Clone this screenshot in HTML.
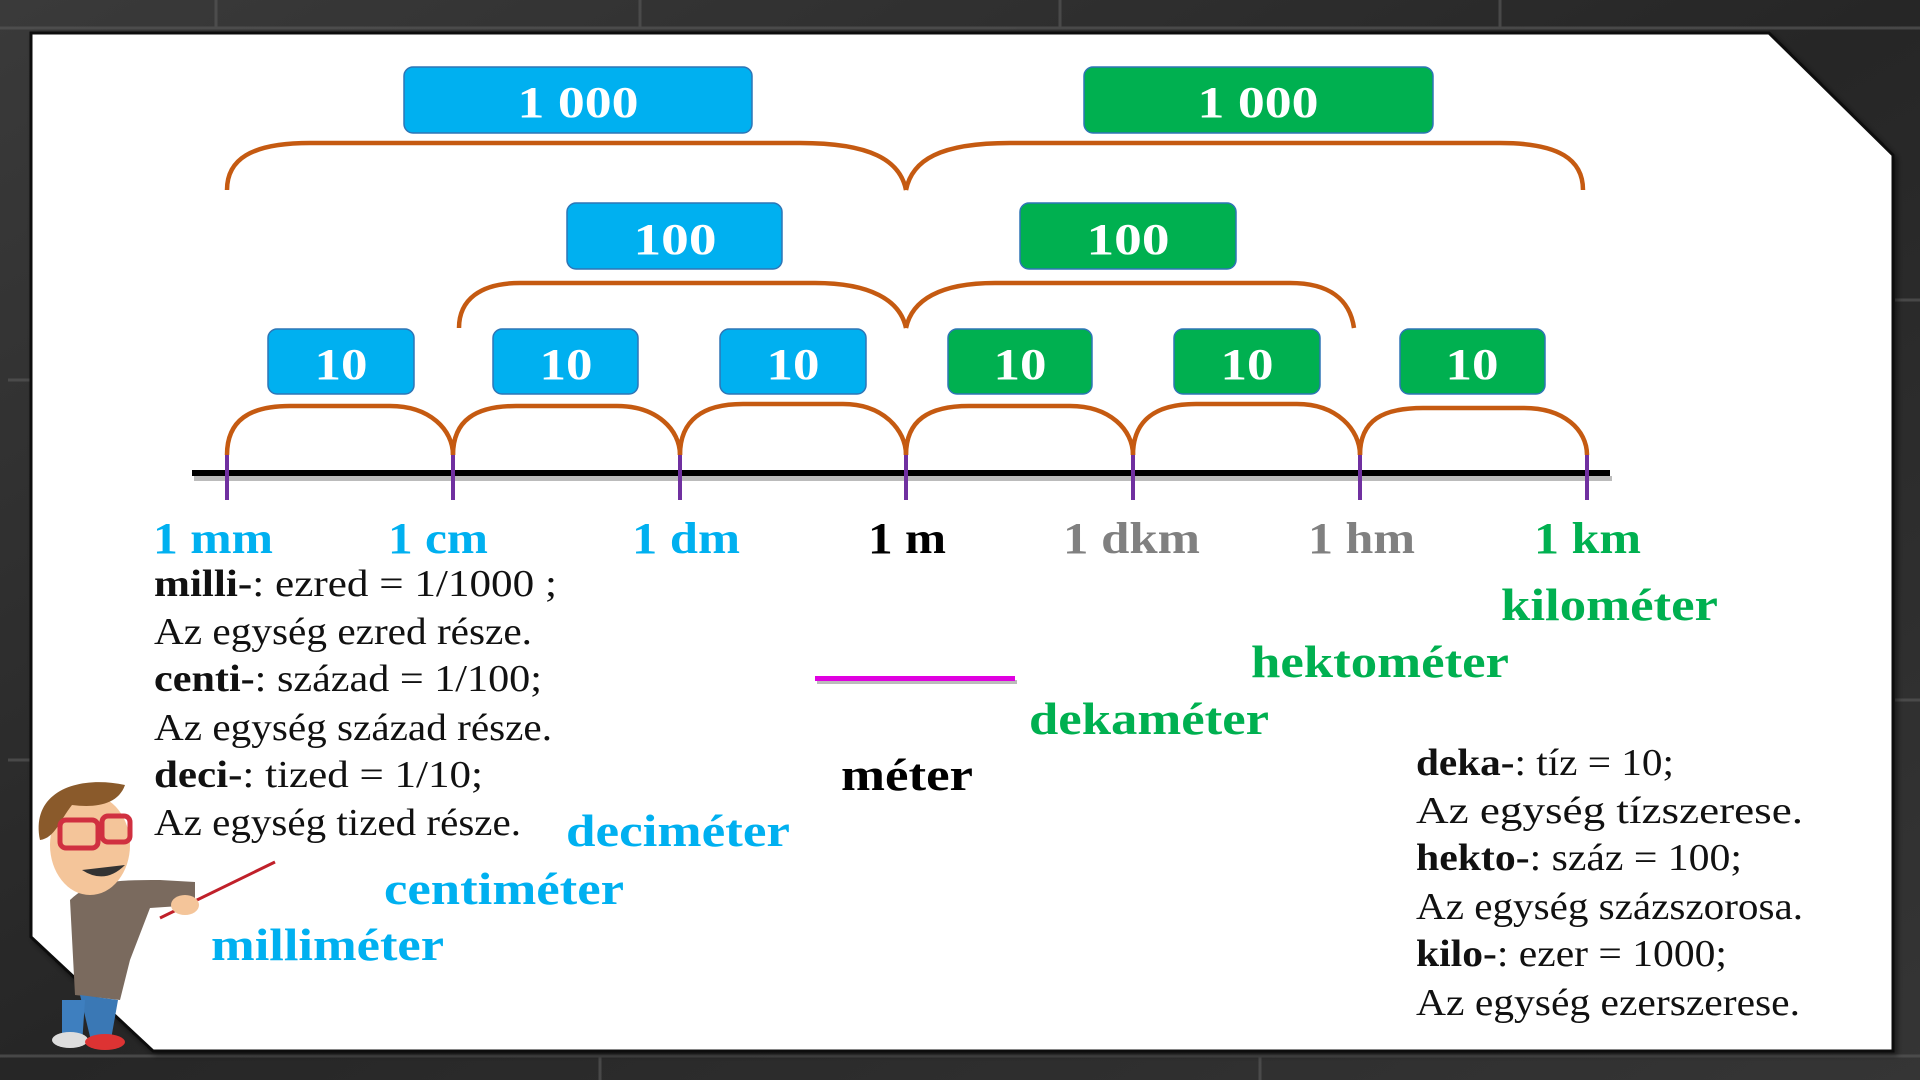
<!DOCTYPE html>
<html><head><meta charset="utf-8"><style>
html,body{margin:0;padding:0;width:1920px;height:1080px;overflow:hidden;background:#2b2b2b}
svg{display:block}
text{font-family:"Liberation Serif",serif}
</style></head><body>
<svg width="1920" height="1080" viewBox="0 0 1920 1080" xmlns="http://www.w3.org/2000/svg">
<defs>
<linearGradient id="bg" x1="0" y1="0" x2="1" y2="1"><stop offset="0" stop-color="#3a3a3a"/><stop offset="0.5" stop-color="#262626"/><stop offset="1" stop-color="#353535"/></linearGradient>
<filter id="sh" x="-5%" y="-5%" width="110%" height="110%"><feDropShadow dx="3" dy="3" stdDeviation="3" flood-opacity="0.5"/></filter>
</defs>
<rect width="1920" height="1080" fill="url(#bg)"/>
<g stroke="#555" stroke-width="3" fill="none" opacity="0.7">
<line x1="0" y1="28" x2="1920" y2="28"/><line x1="0" y1="1056" x2="1920" y2="1056"/>
<line x1="216" y1="0" x2="216" y2="28"/><line x1="640" y1="0" x2="640" y2="28"/><line x1="1060" y1="0" x2="1060" y2="28"/><line x1="1500" y1="0" x2="1500" y2="28"/>
<line x1="8" y1="380" x2="30" y2="380"/><line x1="8" y1="760" x2="30" y2="760"/><line x1="1895" y1="300" x2="1920" y2="300"/><line x1="1895" y1="700" x2="1920" y2="700"/>
<line x1="600" y1="1056" x2="600" y2="1080"/><line x1="1260" y1="1056" x2="1260" y2="1080"/>
</g>
<polygon points="31,33 1769,33 1893,155 1893,1051 153,1051 31,937" fill="#fff" stroke="#111" stroke-width="3" filter="url(#sh)"/>

<!-- axis -->
<rect x="194" y="476" width="1418" height="5" fill="#bbb"/>
<rect x="192" y="470" width="1418" height="6" fill="#000"/>
<g stroke="#7030a0" stroke-width="4">
<line x1="227" y1="455" x2="227" y2="500"/><line x1="453" y1="455" x2="453" y2="500"/><line x1="680" y1="455" x2="680" y2="500"/><line x1="906" y1="455" x2="906" y2="500"/><line x1="1133" y1="455" x2="1133" y2="500"/><line x1="1360" y1="455" x2="1360" y2="500"/><line x1="1587" y1="455" x2="1587" y2="500"/>
</g>
<g stroke="#c55a11" stroke-width="4.5" fill="none">
<path d="M227,455 C227,420 250,406 290,406 L390,406 C430,406 453,430 453,455"/>
<path d="M453,455 C453,420 476,406 516,406 L617,406 C657,406 680,430 680,455"/>
<path d="M680,455 C680,420 703,404 743,404 L843,404 C883,404 906,430 906,455"/>
<path d="M906,455 C906,420 929,406 969,406 L1070,406 C1110,406 1133,430 1133,455"/>
<path d="M1133,455 C1133,420 1156,404 1196,404 L1297,404 C1337,404 1360,430 1360,455"/>
<path d="M1360,455 C1360,420 1383,408 1423,408 L1524,408 C1564,408 1587,430 1587,455"/>
<path d="M459,328 C459,300 480,283 520,283 L815,283 C870,283 900,300 906,328"/>
<path d="M906,328 C912,300 940,283 995,283 L1290,283 C1330,283 1350,300 1354,328"/>
<path d="M227,190 C227,160 250,143 310,143 L800,143 C870,143 900,160 906,190"/>
<path d="M906,190 C912,160 940,143 1010,143 L1500,143 C1560,143 1583,160 1583,190"/>
</g>

<g font-weight="bold" font-size="44" fill="#fff" text-anchor="middle" stroke-width="1.5" lengthAdjust="spacingAndGlyphs">
<rect x="404" y="67" width="348" height="66" rx="9" fill="#00b0f0" stroke="#2e75b6"/><text x="578" y="117" textLength="121" lengthAdjust="spacingAndGlyphs">1 000</text>
<rect x="1084" y="67" width="349" height="66" rx="9" fill="#00b050" stroke="#2e75b6"/><text x="1258" y="117" textLength="121" lengthAdjust="spacingAndGlyphs">1 000</text>
<rect x="567" y="203" width="215" height="66" rx="9" fill="#00b0f0" stroke="#2e75b6"/><text x="675" y="254" textLength="83" lengthAdjust="spacingAndGlyphs">100</text>
<rect x="1020" y="203" width="216" height="66" rx="9" fill="#00b050" stroke="#2e75b6"/><text x="1128" y="254" textLength="83" lengthAdjust="spacingAndGlyphs">100</text>
<rect x="268" y="329" width="146" height="65" rx="9" fill="#00b0f0" stroke="#2e75b6"/><text x="341" y="379" textLength="53" lengthAdjust="spacingAndGlyphs">10</text>
<rect x="493" y="329" width="145" height="65" rx="9" fill="#00b0f0" stroke="#2e75b6"/><text x="566" y="379" textLength="53" lengthAdjust="spacingAndGlyphs">10</text>
<rect x="720" y="329" width="146" height="65" rx="9" fill="#00b0f0" stroke="#2e75b6"/><text x="793" y="379" textLength="53" lengthAdjust="spacingAndGlyphs">10</text>
<rect x="948" y="329" width="144" height="65" rx="9" fill="#00b050" stroke="#2e75b6"/><text x="1020" y="379" textLength="53" lengthAdjust="spacingAndGlyphs">10</text>
<rect x="1174" y="329" width="146" height="65" rx="9" fill="#00b050" stroke="#2e75b6"/><text x="1247" y="379" textLength="53" lengthAdjust="spacingAndGlyphs">10</text>
<rect x="1400" y="329" width="145" height="65" rx="9" fill="#00b050" stroke="#2e75b6"/><text x="1472" y="379" textLength="53" lengthAdjust="spacingAndGlyphs">10</text>
</g>

<g font-weight="bold" font-size="44">
<text x="153" y="553" fill="#00b0f0" textLength="120" lengthAdjust="spacingAndGlyphs">1 mm</text>
<text x="388" y="553" fill="#00b0f0" textLength="100" lengthAdjust="spacingAndGlyphs">1 cm</text>
<text x="632" y="553" fill="#00b0f0" textLength="108" lengthAdjust="spacingAndGlyphs">1 dm</text>
<text x="868" y="553" fill="#000" textLength="78" lengthAdjust="spacingAndGlyphs">1 m</text>
<text x="1063" y="553" fill="#808080" textLength="137" lengthAdjust="spacingAndGlyphs">1 dkm</text>
<text x="1308" y="553" fill="#808080" textLength="107" lengthAdjust="spacingAndGlyphs">1 hm</text>
<text x="1534" y="553" fill="#00b050" textLength="107" lengthAdjust="spacingAndGlyphs">1 km</text>
<g font-size="46">
<text x="1501" y="620" fill="#00b050" textLength="217" lengthAdjust="spacingAndGlyphs">kilométer</text>
<text x="1251" y="677" fill="#00b050" textLength="258" lengthAdjust="spacingAndGlyphs">hektométer</text>
<text x="1029" y="734" fill="#00b050" textLength="240" lengthAdjust="spacingAndGlyphs">dekaméter</text>
<text x="841" y="790" fill="#000" textLength="132" lengthAdjust="spacingAndGlyphs">méter</text>
<text x="566" y="846" fill="#00b0f0" textLength="224" lengthAdjust="spacingAndGlyphs">deciméter</text>
<text x="384" y="904" fill="#00b0f0" textLength="240" lengthAdjust="spacingAndGlyphs">centiméter</text>
<text x="211" y="960" fill="#00b0f0" textLength="233" lengthAdjust="spacingAndGlyphs">milliméter</text>
</g>
</g>
<rect x="817" y="680" width="200" height="4" fill="#bbb"/>
<rect x="815" y="676" width="200" height="5" fill="#e000e0"/>

<g font-size="38" fill="#111">
<text x="154" y="596" textLength="403" lengthAdjust="spacingAndGlyphs"><tspan font-weight="bold">milli-</tspan>: ezred = 1/1000 ;</text>
<text x="154" y="644" textLength="378" lengthAdjust="spacingAndGlyphs">Az egység ezred része.</text>
<text x="154" y="691" textLength="388" lengthAdjust="spacingAndGlyphs"><tspan font-weight="bold">centi-</tspan>: század = 1/100;</text>
<text x="154" y="740" textLength="398" lengthAdjust="spacingAndGlyphs">Az egység század része.</text>
<text x="154" y="787" textLength="329" lengthAdjust="spacingAndGlyphs"><tspan font-weight="bold">deci-</tspan>: tized = 1/10;</text>
<text x="154" y="835" textLength="367" lengthAdjust="spacingAndGlyphs">Az egység tized része.</text>
<text x="1416" y="775" textLength="258" lengthAdjust="spacingAndGlyphs"><tspan font-weight="bold">deka-</tspan>: tíz = 10;</text>
<text x="1416" y="823" textLength="387" lengthAdjust="spacingAndGlyphs">Az egység tízszerese.</text>
<text x="1416" y="870" textLength="326" lengthAdjust="spacingAndGlyphs"><tspan font-weight="bold">hekto-</tspan>: száz = 100;</text>
<text x="1416" y="919" textLength="387" lengthAdjust="spacingAndGlyphs">Az egység százszorosa.</text>
<text x="1416" y="966" textLength="311" lengthAdjust="spacingAndGlyphs"><tspan font-weight="bold">kilo-</tspan>: ezer = 1000;</text>
<text x="1416" y="1015" textLength="384" lengthAdjust="spacingAndGlyphs">Az egység ezerszerese.</text>
</g>

<!-- cartoon teacher -->
<g>
<line x1="160" y1="918" x2="275" y2="862" stroke="#c0202a" stroke-width="3"/>
<path d="M70,900 C90,880 120,880 160,880 L195,882 L195,905 L150,908 L130,960 L120,1000 L75,995 Z" fill="#7a6a5e"/>
<path d="M80,995 L118,1000 L110,1045 L92,1045 Z" fill="#3a78b5"/>
<path d="M62,1000 L85,1000 L82,1045 L62,1045 Z" fill="#3e7fbf"/>
<ellipse cx="70" cy="1040" rx="18" ry="8" fill="#ddd"/><ellipse cx="105" cy="1042" rx="20" ry="8" fill="#d33"/>
<ellipse cx="185" cy="905" rx="14" ry="10" fill="#f4c59a"/>
<ellipse cx="90" cy="845" rx="40" ry="50" fill="#f4c59a"/>
<path d="M40,840 C30,790 80,775 125,785 C118,805 95,808 72,805 C60,820 55,838 40,840 Z" fill="#8a5a2b"/>
<rect x="60" y="820" width="38" height="28" rx="6" fill="none" stroke="#d03040" stroke-width="5"/>
<rect x="102" y="816" width="28" height="26" rx="6" fill="none" stroke="#d03040" stroke-width="5"/>
<path d="M82,870 Q105,885 125,865" fill="#333"/>
</g>
</svg>
</body></html>
